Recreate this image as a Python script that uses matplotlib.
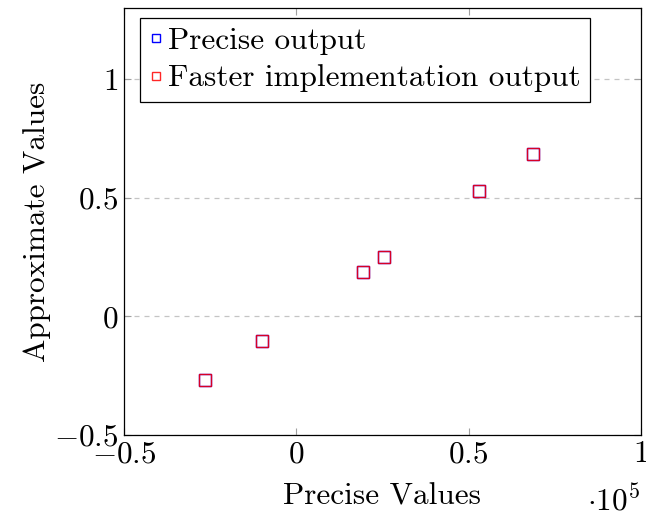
import matplotlib
matplotlib.use('Agg')
from matplotlib import pyplot as plt
import numpy as np

plt.rcParams['font.family'] = ['cmr10', 'DejaVu Serif']
plt.rcParams['mathtext.fontset'] = 'cm'
plt.rcParams['axes.formatter.use_mathtext'] = True

# values (x in raw units, shown scaled by 1e5)
precise_x = [-26500, -9900, 19400, 25500, 53000, 68700]
precise_y = [-0.269, -0.105, 0.189, 0.252, 0.529, 0.685]
faster_x = [-26500, -9900, 19400, 25500, 53000, 68700]
faster_y = [-0.269, -0.105, 0.189, 0.252, 0.529, 0.685]
x_scale = 1e5

fs = 22.5

fig = plt.figure(figsize=(6.46, 5.16), dpi=100)
ax = fig.add_axes([0.192, 0.157, 0.8, 0.8275])

ax.plot(np.array(precise_x) / x_scale, precise_y, ls='none', marker='s',
        ms=8.5, mfc='none', mec='blue', mew=1.0, label='Precise output')
ax.plot(np.array(faster_x) / x_scale, faster_y, ls='none', marker='s',
        ms=8.5, mfc='none', mec='red', mew=1.0, alpha=0.85,
        label='Faster implementation output')

ax.set_xlim(-0.5, 1)
ax.set_ylim(-0.5, 1.3)
ax.set_xticks([-0.5, 0, 0.5, 1])
ax.set_yticks([-0.5, 0, 0.5, 1])
ax.set_xticklabels(['$-0.5$', '$0$', '$0.5$', '$1$'])
ax.set_yticklabels(['$-0.5$', '$0$', '$0.5$', '$1$'])
ax.tick_params(direction='in', top=True, right=True, length=5,
               color='#a0a0a0', labelsize=fs, pad=4)
ax.yaxis.grid(True, ls=(0, (4, 4)), color='#c4c4c4', lw=0.9)

for s in ax.spines.values():
    s.set_linewidth(0.9)

ax.set_xlabel('Precise Values', fontsize=fs, labelpad=10)
ax.set_ylabel('Approximate Values', fontsize=fs, labelpad=2)
ax.text(0.998, -0.153, r'$\cdot 10^5$', transform=ax.transAxes,
        fontsize=fs, ha='right', va='center')

leg = ax.legend(loc='upper left', bbox_to_anchor=(0.031, 0.977), fontsize=fs,
                frameon=True, fancybox=False, edgecolor='black',
                framealpha=1, handlelength=0.4, handletextpad=0.2,
                borderpad=0.3, labelspacing=0.3, markerscale=0.75,
                borderaxespad=0)
leg.get_frame().set_linewidth(0.9)

fig.savefig('out.png', dpi=100)
